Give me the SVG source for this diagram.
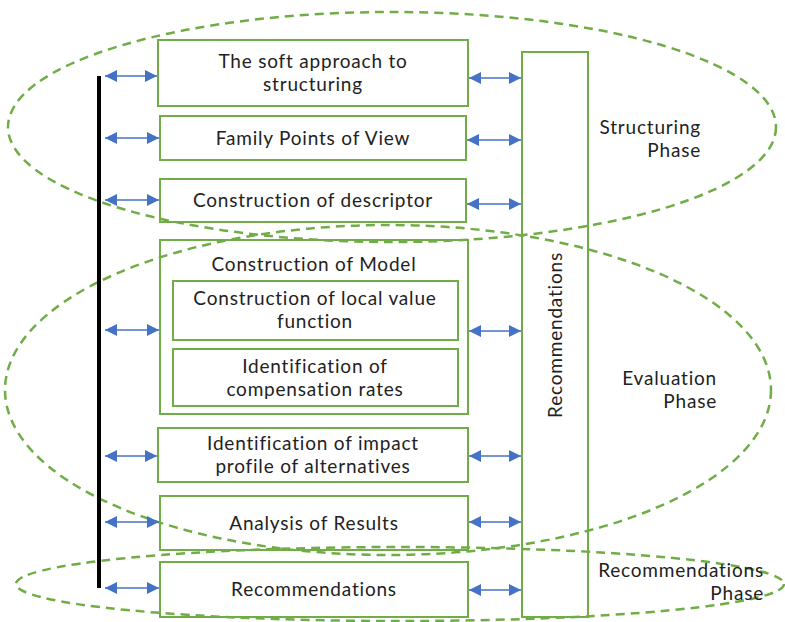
<svg xmlns="http://www.w3.org/2000/svg" width="785" height="622" viewBox="0 0 785 622">
<style>
.box{fill:#fff;stroke:#70AD47;stroke-width:2}
.ph{fill:none;stroke:#70AD47;stroke-width:2.5;stroke-dasharray:9 6}
.t{font-family:Lato,"Open Sans",sans-serif;font-size:19px;letter-spacing:0.8px;fill:#222;text-anchor:middle}
.pt{font-family:Lato,"Open Sans",sans-serif;font-size:19px;letter-spacing:0.8px;fill:#222;text-anchor:end}
.ar{stroke:#4472C4;stroke-width:1.5;marker-start:url(#ah);marker-end:url(#ah)}
</style>
<defs>
<marker id="ah" viewBox="0 0 12 12" refX="12" refY="6" markerWidth="12" markerHeight="12" markerUnits="userSpaceOnUse" orient="auto-start-reverse">
<path d="M0,0 L12,6 L0,12 Z" fill="#4472C4"/>
</marker>
</defs>
<rect width="785" height="622" fill="#fff"/>
<g id="box1"><rect class="box" x="158" y="40" width="310" height="66"/><text class="t" x="313" y="68">The soft approach to</text><text class="t" x="313" y="91">structuring</text></g>
<g id="box2"><rect class="box" x="160" y="116" width="306" height="44"/><text class="t" x="313" y="145">Family Points of View</text></g>
<g id="box3"><rect class="box" x="160" y="179" width="306" height="43"/><text class="t" x="313" y="207">Construction of descriptor</text></g>
<g id="box4"><rect class="box" x="160" y="240" width="308" height="174"/><text class="t" x="314" y="271">Construction of Model</text>
<g id="box4a"><rect class="box" x="173" y="281" width="285" height="59"/><text class="t" x="315" y="305">Construction of local value</text><text class="t" x="315" y="328">function</text></g>
<g id="box4b"><rect class="box" x="173" y="349" width="285" height="57"/><text class="t" x="315" y="373">Identification of</text><text class="t" x="315" y="396">compensation rates</text></g>
</g>
<g id="box5"><rect class="box" x="158" y="428" width="310" height="54"/><text class="t" x="313" y="450">Identification of impact</text><text class="t" x="313" y="473">profile of alternatives</text></g>
<g id="box6"><rect class="box" x="160" y="496" width="308" height="54"/><text class="t" x="314" y="530">Analysis of Results</text></g>
<g id="box7"><rect class="box" x="160" y="562" width="308" height="55"/><text class="t" x="314" y="596">Recommendations</text></g>
<g id="rec"><rect class="box" x="522" y="52" width="66" height="565"/><text class="t" transform="translate(562,335) rotate(-90)">Recommendations</text></g>
<g id="phases">
<ellipse class="ph" cx="392" cy="127" rx="384" ry="115"/>
<ellipse class="ph" cx="388" cy="390" rx="383" ry="165"/>
<ellipse class="ph" cx="400" cy="584" rx="384" ry="37"/>
<text class="pt" x="701" y="134">Structuring</text><text class="pt" x="701" y="157">Phase</text>
<text class="pt" x="717" y="385">Evaluation</text><text class="pt" x="717" y="408">Phase</text>
<text class="pt" x="764" y="577">Recommendations</text><text class="pt" x="764" y="600">Phase</text>
</g>
<g id="connectors">
<line x1="99" y1="76" x2="99" y2="588" stroke="#000" stroke-width="4"/>
<line class="ar" x1="105" y1="76" x2="157" y2="76"/>
<line class="ar" x1="105" y1="138" x2="159" y2="138"/>
<line class="ar" x1="105" y1="200" x2="159" y2="200"/>
<line class="ar" x1="105" y1="330" x2="159" y2="330"/>
<line class="ar" x1="105" y1="456" x2="157" y2="456"/>
<line class="ar" x1="105" y1="522" x2="159" y2="522"/>
<line class="ar" x1="105" y1="588" x2="159" y2="588"/>
<line class="ar" x1="469" y1="78" x2="521" y2="78"/>
<line class="ar" x1="467" y1="140" x2="521" y2="140"/>
<line class="ar" x1="467" y1="204" x2="521" y2="204"/>
<line class="ar" x1="469" y1="331" x2="521" y2="331"/>
<line class="ar" x1="469" y1="456" x2="521" y2="456"/>
<line class="ar" x1="469" y1="522" x2="521" y2="522"/>
<line class="ar" x1="469" y1="590" x2="521" y2="590"/>
</g>
</svg>
